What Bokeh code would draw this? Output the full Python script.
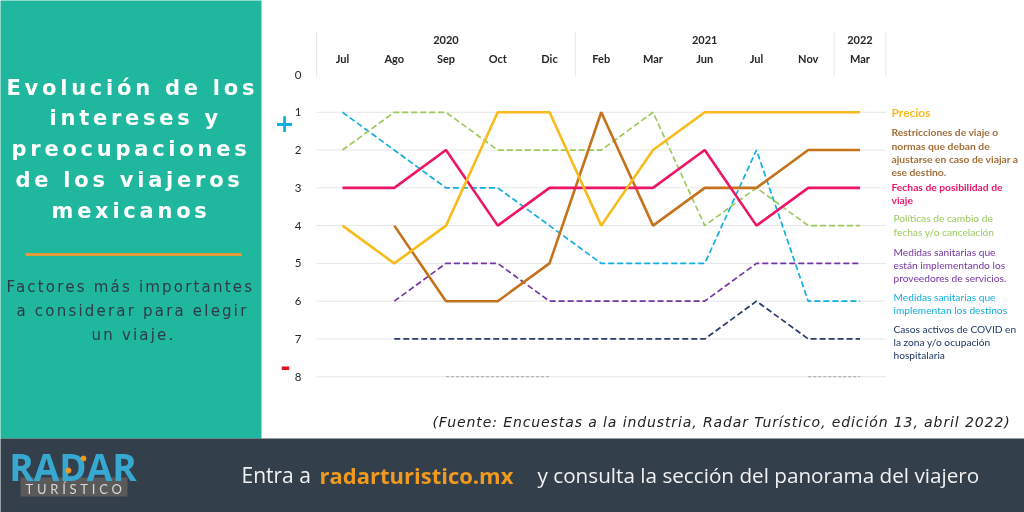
from bokeh.embed import file_html
from bokeh.resources import INLINE
from bokeh.plotting import figure
from bokeh.layouts import column
from bokeh.models import Label, LinearAxis, FixedTicker, Range1d

months = ["Jul", "Ago", "Sep", "Oct", "Dic", "Feb", "Mar", "Jun", "Jul", "Nov", "Mar"]
years = ["2020", "2021", "2022"]
year_positions = [2, 7, 10]
year_breaks = [-0.5, 4.5, 9.5, 10.5]
ranks = [0, 1, 2, 3, 4, 5, 6, 7, 8]
N = None
precios = [4, 5, 4, 1, 1, 4, 2, 1, 1, 1, 1]
restricciones = [N, 4, 6, 6, 5, 1, 4, 3, 3, 2, 2]
fechas = [3, 3, 2, 4, 3, 3, 3, 2, 4, 3, 3]
politicas = [2, 1, 1, 2, 2, 2, 1, 4, 3, 4, 4]
proveedores = [N, 6, 5, 5, 6, 6, 6, 6, 5, 5, 5]
destinos = [1, 2, 3, 3, 4, 5, 5, 5, 2, 6, 6]
casos = [N, 7, 7, 7, 7, 7, 7, 7, 6, 7, 7]
otros = [N, N, 8, 8, 8, N, N, N, N, 8, 8]

W, H = 1024, 512
X0, DX, Y0, DY = 342.0, 51.75, 74.0, 37.78
def fx(px): return (px - X0) / DX
def fy(py): return (py - Y0) / DY

def make_fig(bg, spacing=None):
    f = figure(width=W, height=H, output_backend="svg", toolbar_location=None,
               x_range=Range1d(fx(0), fx(W)), y_range=Range1d(fy(H), fy(0)),
               x_axis_location=None, y_axis_location=None, min_border=0,
               outline_line_color=None, background_fill_color=bg, border_fill_color=bg)
    st = {"position": "fixed", "left": "0", "top": "0"}
    if spacing:
        st["letter-spacing"] = spacing
    f.styles = st
    f.grid.visible = False
    return f

p = make_fig("white")

def box(l, t, r, b, color):
    p.quad(left=fx(l), right=fx(r), top=fy(t), bottom=fy(b), fill_color=color, line_color=None)

box(-5, -5, 261, 438, "#1FB79E")
box(-5, 438, W + 5, H + 5, "#333F4B")
box(25, 252.5, 241, 255.5, "#E39A3B")

# Gridlines and header separators
p.segment(x0=[year_breaks[0]] * 8, x1=[year_breaks[-1]] * 8, y0=ranks[1:], y1=ranks[1:],
          line_color="#E6E6E6", line_width=1)
p.segment(x0=year_breaks, x1=year_breaks, y0=[fy(32)] * 4, y1=[fy(76)] * 4,
          line_color="#E6E6E6", line_width=1)

def series(vals, color, width, dash="solid"):
    xs, ys = zip(*[(i, v if v is not None else float("nan")) for i, v in enumerate(vals)])
    p.line(list(xs), list(ys), line_color=color, line_width=width, line_dash=dash)

series(otros, "#A6A6A6", 1, [3, 2])
series(casos, "#2A3B6B", 1.7, [6, 3])
series(destinos, "#12AEE0", 1.7, [6, 3])
series(proveedores, "#7436A2", 1.7, [6, 3])
series(politicas, "#9CCB5C", 1.7, [6, 3])
series(restricciones, "#C4721B", 2.6)
series(fechas, "#EE1566", 2.6)
series(precios, "#F7BC1C", 2.6)

# Axes
yax = LinearAxis(fixed_location=fx(316), ticker=FixedTicker(ticks=ranks))
yax.axis_line_color = None
yax.major_tick_line_color = None
yax.minor_tick_line_color = None
yax.major_label_standoff = 9
yax.major_label_text_font = "Lato"
yax.major_label_text_font_size = "11.5px"
yax.major_label_text_color = "#262626"
p.add_layout(yax, "left")

def top_axis(py, ticks, labels):
    a = LinearAxis(fixed_location=fy(py), ticker=FixedTicker(ticks=ticks),
                   major_label_overrides={t: l for t, l in zip(ticks, labels)})
    a.axis_line_color = None
    a.major_tick_line_color = None
    a.minor_tick_line_color = None
    a.major_label_standoff = 0
    a.major_label_text_font = "Lato"
    a.major_label_text_font_style = "bold"
    a.major_label_text_font_size = "11px"
    a.major_label_text_color = "#262626"
    a.major_label_text_baseline = "middle"
    p.add_layout(a, "above")

top_axis(70.5, list(range(len(months))), months)
top_axis(49.5, year_positions, years)

def text(px, py, s, font="Lato", size=11, color="#000000", style="normal", align="left", fig=None):
    (fig or p).add_layout(Label(x=fx(px), y=fy(py), text=s, text_font=font, text_font_size=f"{size}px",
                                text_color=color, text_font_style=style, text_align=align,
                                text_baseline="middle"))

text(284, 122.5, "+", "DejaVu Sans", 24, "#12AEE0", "bold", "center")
text(285, 365.5, "-", "DejaVu Sans", 24, "#E8101E", "bold", "center")

# Legend
text(891, 112, "Precios", size=12, color="#F7BC1C", style="bold")
for py, s in zip([131.7, 145, 158, 171.5], ["Restricciones de viaje o", "normas que deban de",
                                             "ajustarse en caso de viajar a", "ese destino."]):
    text(891, py, s, size=10.3, color="#A26F3A", style="bold")
for py, s in zip([186.5, 199.7], ["Fechas de posibilidad de", "viaje"]):
    text(891, py, s, size=10.3, color="#EE1566", style="bold")
for py, s in zip([217.7, 231], ["Políticas de cambio de", "fechas y/o cancelación"]):
    text(893, py, s, size=10.2, color="#9CCB5C")
for py, s in zip([251, 264.5, 277.5], ["Medidas sanitarias que", "están implementando los",
                                        "proveedores de servicios."]):
    text(893, py, s, size=10.2, color="#7436A2")
for py, s in zip([296, 309.5], ["Medidas sanitarias que", "implementan los destinos"]):
    text(893, py, s, size=10.2, color="#12AEE0")
for py, s in zip([328, 341, 354], ["Casos activos de COVID en", "la zona y/o ocupación", "hospitalaria"]):
    text(893, py, s, size=10.2, color="#1F3864")

# Footer
text(241, 474.5, "Entra a", "Open Sans", 21, "#F2F2F2")
text(319, 474.5, "radarturistico.mx", "Open Sans", 22, "#F09A1E", "bold")
text(537, 474.5, "y consulta la sección del panorama del viajero", "Open Sans", 20.7, "#F2F2F2")

# Logo
box(20, 477, 127, 496, "#5A5A5A")
text(72.5, 466, "RADAR", "Open Sans", 37, "#37A9D0", "bold", "center")
p.scatter(x=[fx(83), fx(68)], y=[fy(458), fy(470)], size=5, color="#F09A1E", level="overlay")

# Letter-spaced texts
wide = make_fig(None, "3.75px")
for px, py, s in zip([6, 49, 11, 15, 51], [87, 117.5, 148.5, 179, 210],
                     ["Evolución de los", "intereses y", "preocupaciones", "de los viajeros", "mexicanos"]):
    text(px, py, s, "DejaVu Sans", 21, "#FFFFFF", "bold", fig=wide)
text(25, 488, "TURÍSTICO", "Lato", 13, "#D8D8D8", fig=wide)

sub = make_fig(None, "2.2px")
for px, py, s in zip([6, 16, 91], [286.5, 310.5, 334.5],
                     ["Factores más importantes", "a considerar para elegir", "un viaje."]):
    text(px, py, s, "DejaVu Sans", 15, "#2F3B47", fig=sub)

src = make_fig(None, "0.9px")
text(432, 421.5, "(Fuente: Encuestas a la industria, Radar Turístico, edición 13, abril 2022)",
     "DejaVu Sans", 14, "#222222", "italic", fig=src)

open("out.html", "w").write(file_html(column(p, wide, sub, src), INLINE))
